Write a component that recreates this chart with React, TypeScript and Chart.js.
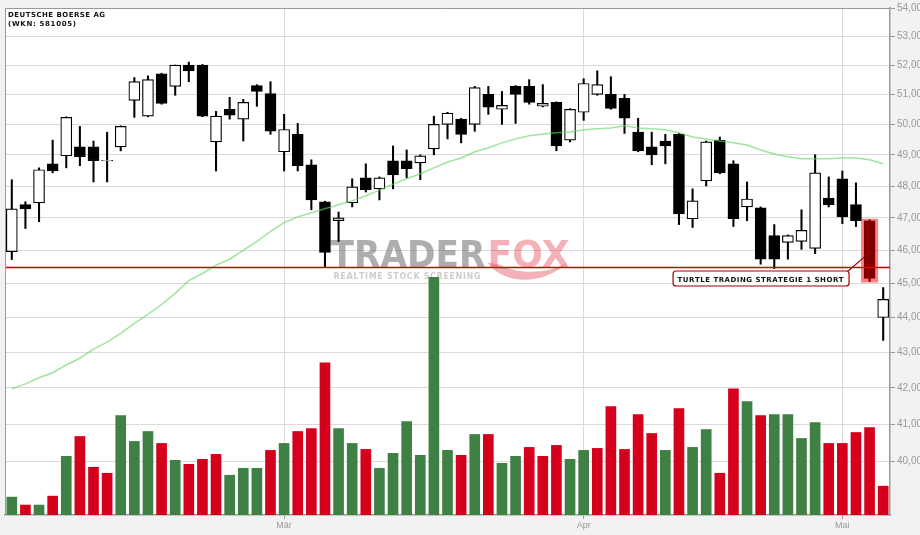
import React, { useEffect, useRef } from "react";
import { Chart, registerables } from "chart.js";

Chart.register(...registerables);

const TITLE_LINES = ["DEUTSCHE BOERSE AG", "(WKN: 581005)"];
const SIGNAL_TEXT = "TURTLE TRADING STRATEGIE 1 SHORT";
const SIGNAL_INDEX = 63;
const TURTLE_LEVEL = 45.48;
const WATERMARK_MAIN = ["TRADER", "FOX"];
const WATERMARK_SUB = "REALTIME STOCK SCREENING";

const dates = [
  "2012-02-02", "2012-02-03", "2012-02-06", "2012-02-07", "2012-02-08", "2012-02-09", "2012-02-10",
  "2012-02-13", "2012-02-14", "2012-02-15", "2012-02-16", "2012-02-17", "2012-02-20", "2012-02-21",
  "2012-02-22", "2012-02-23", "2012-02-24", "2012-02-27", "2012-02-28", "2012-02-29",
  "2012-03-01", "2012-03-02", "2012-03-05", "2012-03-06", "2012-03-07", "2012-03-08", "2012-03-09",
  "2012-03-12", "2012-03-13", "2012-03-14", "2012-03-15", "2012-03-16", "2012-03-19", "2012-03-20",
  "2012-03-21", "2012-03-22", "2012-03-23", "2012-03-26", "2012-03-27", "2012-03-28", "2012-03-29",
  "2012-03-30",
  "2012-04-02", "2012-04-03", "2012-04-04", "2012-04-05", "2012-04-10", "2012-04-11", "2012-04-12",
  "2012-04-13", "2012-04-16", "2012-04-17", "2012-04-18", "2012-04-19", "2012-04-20", "2012-04-23",
  "2012-04-24", "2012-04-25", "2012-04-26", "2012-04-27", "2012-04-30",
  "2012-05-02", "2012-05-03", "2012-05-04", "2012-05-07",
];

const opens = [
  45.96, 47.41, 47.47, 48.71, 48.97, 49.26, 49.26, 48.80, 49.26, 50.80,
  50.27, 51.70, 51.27, 52.00, 52.00, 49.42, 50.50, 50.17, 51.30, 51.03,
  49.10, 49.67, 48.68, 47.50, 46.91, 47.47, 48.26, 47.91, 48.81, 48.81,
  48.74, 49.19, 50.00, 50.17, 50.00, 51.00, 50.50, 51.27, 51.27, 50.60,
  50.73, 49.48, 50.40, 51.00, 51.00, 50.87, 49.74, 49.26, 49.45, 49.67,
  46.97, 48.16, 49.48, 48.71, 47.34, 47.31, 46.45, 46.24, 46.27, 46.06,
  47.62, 48.23, 47.41, 46.91, 44.00,
];
const highs = [
  48.20, 47.50, 48.58, 49.48, 50.25, 49.93, 49.45, 49.74, 49.95, 51.57,
  51.63, 51.72, 52.00, 52.10, 52.02, 50.43, 50.90, 50.83, 51.33, 51.43,
  50.33, 50.03, 48.84, 47.52, 47.18, 48.23, 48.71, 48.29, 49.29, 49.16,
  49.00, 50.27, 50.40, 50.20, 51.27, 51.27, 51.10, 51.30, 51.50, 51.33,
  50.75, 50.52, 51.53, 51.80, 51.60, 51.00, 50.20, 49.74, 49.67, 49.70,
  47.91, 49.45, 49.58, 48.81, 48.13, 47.34, 46.79, 46.47, 47.25, 49.00,
  48.29, 48.48, 48.10, 46.94, 44.88,
];
const lows = [
  45.72, 46.67, 46.88, 48.42, 48.58, 48.65, 48.13, 48.13, 49.13, 50.23,
  50.25, 50.67, 50.97, 51.43, 50.25, 48.48, 50.17, 49.45, 50.60, 49.67,
  48.48, 48.48, 47.25, 45.50, 46.27, 47.34, 47.81, 47.56, 47.91, 48.26,
  48.20, 49.00, 49.52, 49.39, 49.77, 50.33, 50.00, 50.03, 50.67, 50.58,
  49.13, 49.42, 50.13, 50.97, 50.50, 49.70, 49.10, 48.68, 48.71, 46.79,
  46.70, 48.00, 48.39, 46.73, 46.91, 45.58, 45.45, 45.73, 46.03, 45.90,
  47.34, 46.82, 46.73, 45.06, 43.34,
];
const closes = [
  47.28, 47.28, 48.52, 48.48, 50.23, 48.94, 48.81, 48.82, 49.93, 51.43,
  51.50, 50.70, 52.00, 51.80, 50.27, 50.27, 50.30, 50.73, 51.10, 49.77,
  49.83, 48.65, 47.56, 45.94, 47.00, 47.97, 47.88, 48.26, 48.35, 48.55,
  48.97, 50.00, 50.37, 49.67, 51.23, 50.57, 50.63, 51.00, 50.73, 50.70,
  49.29, 50.50, 51.37, 51.33, 50.53, 50.20, 49.13, 49.00, 49.29, 47.12,
  47.53, 49.42, 48.42, 46.97, 47.59, 45.73, 45.73, 46.45, 46.61, 48.42,
  47.41, 47.03, 46.91, 45.15, 44.53,
];
const movingAverage = [
  41.97, 42.11, 42.28, 42.42, 42.64, 42.83, 43.09, 43.29, 43.54, 43.83,
  44.09, 44.38, 44.71, 45.09, 45.30, 45.55, 45.73, 46.00, 46.27, 46.58,
  46.85, 47.03, 47.16, 47.28, 47.41, 47.53, 47.69, 47.87, 48.06, 48.23,
  48.39, 48.58, 48.77, 48.90, 49.10, 49.23, 49.39, 49.52, 49.62, 49.68,
  49.72, 49.75, 49.82, 49.85, 49.88, 49.95, 49.88, 49.85, 49.82, 49.72,
  49.58, 49.52, 49.45, 49.39, 49.32, 49.16, 49.03, 48.94, 48.87, 48.87,
  48.87, 48.90, 48.90, 48.84, 48.71,
];
// volume in million shares
const volumes = [
  0.36, 0.20, 0.20, 0.38, 1.18, 1.58, 0.96, 0.84, 2.00, 1.48,
  1.68, 1.44, 1.10, 1.02, 1.12, 1.22, 0.80, 0.94, 0.94, 1.30,
  1.44, 1.68, 1.74, 3.06, 1.74, 1.44, 1.32, 0.94, 1.24, 1.88,
  1.20, 4.78, 1.30, 1.20, 1.62, 1.62, 1.04, 1.18, 1.36, 1.18,
  1.40, 1.12, 1.30, 1.34, 2.18, 1.32, 2.02, 1.64, 1.30, 2.14,
  1.36, 1.72, 0.84, 2.54, 2.28, 2.00, 2.02, 2.02, 1.54, 1.86,
  1.44, 1.44, 1.66, 1.76, 0.58,
];
// 1 = close above previous close (green), 0 = below (red)
const volumeUp = [
  1, 0, 1, 0, 1, 0, 0, 0, 1, 1,
  1, 0, 1, 0, 0, 0, 1, 1, 1, 0,
  1, 0, 0, 0, 1, 1, 0, 1, 1, 1,
  1, 1, 1, 0, 1, 0, 1, 1, 0, 0,
  0, 1, 1, 0, 0, 0, 0, 0, 1, 0,
  1, 1, 0, 0, 1, 0, 1, 1, 1, 1,
  0, 0, 0, 0, 0,
];
const priceTicks = [40, 41, 42, 43, 44, 45, 46, 47, 48, 49, 50, 51, 52, 53, 54];
const PRICE_MIN = 38.61;
const PRICE_MAX = 54;
const VOLUME_MAX = 10.2;
const monthNames = ["Jan", "Feb", "Mär", "Apr", "Mai", "Jun", "Jul", "Aug", "Sep", "Okt", "Nov", "Dez"];

const monthOf = (i: number) => Number(dates[i].slice(5, 7)) - 1;
const isMonthStart = (i: number) => i > 0 && monthOf(i) !== monthOf(i - 1);

function spacedText(ctx: CanvasRenderingContext2D, text: string, x: number, y: number, width: number) {
  const chars = Array.from(text);
  const widths = chars.map((c) => ctx.measureText(c).width);
  const total = widths.reduce((a, b) => a + b, 0);
  const gap = chars.length > 1 ? (width - total) / (chars.length - 1) : 0;
  let cx = x;
  chars.forEach((c, i) => {
    ctx.fillText(c, cx, y);
    cx += widths[i] + gap;
  });
}

function stretchedText(ctx: CanvasRenderingContext2D, text: string, x: number, y: number, width: number) {
  const w = ctx.measureText(text).width;
  ctx.save();
  ctx.translate(x, y);
  ctx.scale(width / w, 1);
  ctx.fillText(text, 0, 0);
  ctx.restore();
}

const backgroundPlugin = {
  id: "bgPlugin",
  beforeDraw(chart: any) {
    const { ctx, chartArea: a, width, height } = chart;
    ctx.save();
    ctx.fillStyle = "#f2f2f2";
    ctx.fillRect(0, 0, width, height);
    ctx.fillStyle = "#ffffff";
    ctx.fillRect(a.left, a.top, a.right - a.left, a.bottom - a.top);
    ctx.restore();
  },
};

const watermarkPlugin = {
  id: "watermarkPlugin",
  beforeDatasetsDraw(chart: any) {
    const { ctx, chartArea: a } = chart;
    const cx = (a.left + a.right) / 2;
    const base = (a.top + a.bottom) / 2 + 5;
    ctx.save();
    ctx.textBaseline = "alphabetic";
    ctx.textAlign = "left";
    ctx.font = "bold 37px 'DejaVu Sans'";
    const g = ctx.createLinearGradient(0, base - 27, 0, base);
    g.addColorStop(0, "rgba(120,120,120,0.6)");
    g.addColorStop(1, "rgba(190,190,190,0.6)");
    ctx.fillStyle = g;
    stretchedText(ctx, WATERMARK_MAIN[0], cx - 117, base, 155);
    ctx.fillStyle = "rgba(232,70,85,0.42)";
    stretchedText(ctx, WATERMARK_MAIN[1], cx + 40, base, 82);
    // tail swoosh
    ctx.beginPath();
    ctx.moveTo(cx + 40, base - 4);
    ctx.bezierCurveTo(cx + 55, base + 18, cx + 95, base + 20, cx + 120, base - 4);
    ctx.bezierCurveTo(cx + 100, base + 8, cx + 70, base + 8, cx + 52, base - 2);
    ctx.closePath();
    ctx.fill();
    ctx.fillStyle = "rgba(165,165,165,0.55)";
    ctx.font = "bold 8px 'DejaVu Sans'";
    spacedText(ctx, WATERMARK_SUB, cx - 114, base + 12, 147);
    ctx.restore();
  },
};

const overlayPlugin = {
  id: "overlayPlugin",
  afterDatasetsDraw(chart: any) {
    const { ctx, chartArea: a, scales } = chart;
    const xs = scales.x;
    const ys = scales.y;
    ctx.save();
    ctx.beginPath();
    ctx.rect(a.left, a.top, a.right - a.left, a.bottom - a.top);
    ctx.clip();
    // turtle level line
    const yl = ys.getPixelForValue(TURTLE_LEVEL);
    ctx.strokeStyle = "#cc0000";
    ctx.lineWidth = 1.3;
    ctx.beginPath();
    ctx.moveTo(a.left, yl);
    ctx.lineTo(a.right, yl);
    ctx.stroke();
    // signal highlight
    const xSig = xs.getPixelForValue(SIGNAL_INDEX);
    const yHi = ys.getPixelForValue(highs[SIGNAL_INDEX]);
    const yLo = ys.getPixelForValue(lows[SIGNAL_INDEX]);
    ctx.fillStyle = "rgba(255,0,0,0.5)";
    ctx.fillRect(xSig - 8.5, yHi - 1, 17, yLo - yHi + 2);
    // label box
    const boxRight = xSig - 21;
    const boxLeft = boxRight - 176;
    const boxTop = yl + 3;
    const boxH = 15;
    const yMid = (ys.getPixelForValue(opens[SIGNAL_INDEX]) + ys.getPixelForValue(closes[SIGNAL_INDEX])) / 2;
    ctx.strokeStyle = "#a00000";
    ctx.lineWidth = 1.2;
    ctx.beginPath();
    ctx.moveTo(boxRight - 1, boxTop + 1);
    ctx.lineTo(xSig + 1, yMid + 2);
    ctx.stroke();
    ctx.beginPath();
    ctx.roundRect(boxLeft + 0.5, boxTop + 0.5, boxRight - boxLeft, boxH, 3);
    ctx.fillStyle = "#ffffff";
    ctx.fill();
    ctx.stroke();
    ctx.fillStyle = "#111111";
    ctx.font = "bold 7px 'DejaVu Sans'";
    ctx.textBaseline = "alphabetic";
    spacedText(ctx, SIGNAL_TEXT, boxLeft + 5, boxTop + 11, 166);
    ctx.restore();
  },
  afterDraw(chart: any) {
    const { ctx, chartArea: a } = chart;
    ctx.save();
    ctx.strokeStyle = "#999999";
    ctx.lineWidth = 1;
    ctx.beginPath();
    ctx.moveTo(a.left + 0.5, a.bottom);
    ctx.lineTo(a.left + 0.5, a.top + 0.5);
    ctx.lineTo(a.right, a.top + 0.5);
    ctx.stroke();
    ctx.fillStyle = "#111111";
    ctx.font = "bold 7px 'DejaVu Sans'";
    ctx.textBaseline = "alphabetic";
    spacedText(ctx, TITLE_LINES[0], a.left + 3, a.top + 9, 97);
    spacedText(ctx, TITLE_LINES[1], a.left + 3, a.top + 18, 68);
    ctx.restore();
  },
};

export default function App() {
  const ref = useRef<HTMLCanvasElement>(null);
  useEffect(() => {
    document.body.style.margin = "0";
    document.body.style.background = "#f2f2f2";
    const canvas = ref.current;
    if (!canvas) return;
    const idx = dates.map((_, i) => i);
    const chart = new Chart(canvas, {
      type: "bar",
      data: {
        labels: dates,
        datasets: [
          {
            type: "line",
            label: "GD",
            data: movingAverage,
            borderColor: "rgba(100,212,100,0.62)",
            borderWidth: 1.5,
            pointRadius: 0,
            tension: 0,
            yAxisID: "y",
            order: 0,
          } as any,
          {
            label: "body",
            data: idx.map((i) => [opens[i], closes[i]]),
            backgroundColor: idx.map((i) => (closes[i] > opens[i] ? "#ffffff" : "#000000")),
            borderColor: "#000000",
            borderWidth: 1.2,
            borderSkipped: false,
            barThickness: 11,
            grouped: false,
            yAxisID: "y",
            order: 1,
          },
          {
            label: "wick",
            data: idx.map((i) => [lows[i], highs[i]]),
            backgroundColor: "#000000",
            borderWidth: 0,
            barThickness: 1.4,
            grouped: false,
            yAxisID: "y",
            order: 2,
          },
          {
            label: "volume",
            data: volumes,
            backgroundColor: volumeUp.map((u) => (u ? "#3f8044" : "#d5001c")),
            borderWidth: 0,
            barThickness: 10,
            grouped: false,
            yAxisID: "yv",
            order: 3,
          },
        ],
      },
      options: {
        responsive: false,
        maintainAspectRatio: false,
        animation: false,
        events: [],
        layout: { padding: { left: 5, top: 5, right: 0, bottom: 0 } },
        plugins: {
          legend: { display: false },
          tooltip: { enabled: false },
          title: { display: false },
        },
        scales: {
          x: {
            type: "category",
            offset: true,
            grid: {
              offset: false,
              color: "#dadada",
              lineWidth: 1,
              tickColor: "#999999",
              tickLength: 4,
              drawTicks: true,
            },
            border: { display: true, color: "#999999", width: 1.5 },
            ticks: {
              autoSkip: false,
              maxRotation: 0,
              padding: 1,
              color: "#999999",
              font: { family: "'Liberation Sans'", size: 9 },
              callback: (value: any) => monthNames[monthOf(Number(value))],
            },
            afterBuildTicks: (axis: any) => {
              axis.ticks = axis.ticks.filter((t: any) => isMonthStart(t.value));
            },
            afterFit: (axis: any) => {
              axis.height = 20;
            },
          },
          y: {
            type: "logarithmic",
            position: "right",
            min: PRICE_MIN,
            max: PRICE_MAX,
            bounds: "data",
            grid: {
              color: "#dadada",
              lineWidth: 1,
              tickColor: "#999999",
              tickLength: 5,
            },
            border: { display: true, color: "#999999", width: 1.5 },
            ticks: {
              padding: 2,
              color: "#999999",
              font: { family: "'Liberation Sans'", size: 10 },
              callback: (value: any) => Number(value).toFixed(2).replace(".", ","),
            },
            afterBuildTicks: (axis: any) => {
              axis.ticks = priceTicks.map((v) => ({ value: v }));
            },
            afterFit: (axis: any) => {
              axis.width = 30;
            },
          },
          yv: {
            type: "linear",
            display: false,
            min: 0,
            max: VOLUME_MAX,
          },
        },
      } as any,
      plugins: [backgroundPlugin, watermarkPlugin, overlayPlugin],
    });
    return () => chart.destroy();
  }, []);
  return <canvas ref={ref} width={920} height={535} style={{ display: "block" }} />;
}
